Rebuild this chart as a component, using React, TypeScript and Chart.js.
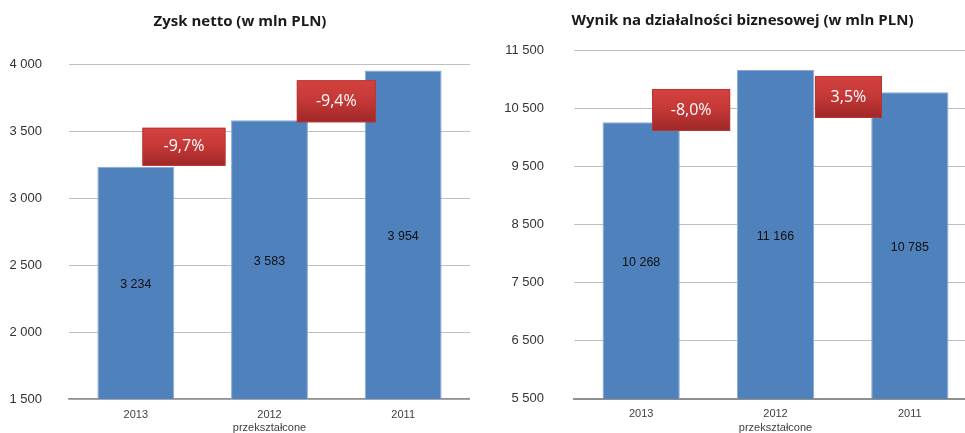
import React, { useEffect, useRef } from "react";
import { Chart, registerables } from "chart.js";

Chart.register(...registerables);

// ---- data ----
const categories: (string | string[])[] = ["2013", ["2012", "przekształcone"], "2011"];

const netProfitTitle = "Zysk netto (w mln PLN)";
const netProfitValues = [3234, 3583, 3954];
const netProfitChanges = ["-9,7%", "-9,4%"];
const netProfitTicks = [1500, 2000, 2500, 3000, 3500, 4000];

const businessTitle = "Wynik na działalności biznesowej (w mln PLN)";
const businessValues = [10268, 11166, 10785];
const businessChanges = ["-8,0%", "3,5%"];
const businessTicks = [5500, 6500, 7500, 8500, 9500, 10500, 11500];

// ---- annotation placement (layout config, not data) ----
const netProfitBoxes = [
  { at: 0.36, value: 3384, w: 83, h: 38 },
  { at: 1.5, value: 3724, w: 79, h: 42 },
];
const businessBoxes = [
  { at: 0.372, value: 10478, w: 78, h: 42 },
  { at: 1.543, value: 10702, w: 67, h: 42 },
];

const fmt = (n: number) => String(n).replace(/\B(?=(\d{3})+(?!\d))/g, " ");

const barLabelPlugin = {
  id: "barLabels",
  afterDatasetsDraw(chart: any) {
    const meta = chart.getDatasetMeta(0);
    const data = chart.data.datasets[0].data as number[];
    const ctx = chart.ctx;
    const bottom = chart.chartArea.bottom;
    ctx.save();
    ctx.font = "12.5px 'Liberation Sans', Arial, sans-serif";
    ctx.fillStyle = "#111111";
    ctx.textAlign = "center";
    ctx.textBaseline = "middle";
    meta.data.forEach((bar: any, i: number) => {
      const base = Math.min(bar.base, bottom);
      ctx.fillText(fmt(data[i]), bar.x, (bar.y + base) / 2 + 2);
    });
    ctx.restore();
  },
};

// let the y tick labels use the whole left margin of the canvas
const labelRoomPlugin = {
  id: "labelRoom",
  afterLayout(chart: any) {
    const y = chart.scales.y;
    if (y) y.left = 0;
  },
};

const changeBoxPlugin = {
  id: "changeBoxes",
  afterDatasetsDraw(chart: any, _args: any, opts: any) {
    const { labels, boxes } = opts;
    if (!labels || !boxes) return;
    const ctx = chart.ctx;
    const xs = chart.scales.x;
    const ys = chart.scales.y;
    ctx.save();
    labels.forEach((text: string, i: number) => {
      const b = boxes[i];
      const cx = xs.getPixelForValue(b.at);
      const cy = ys.getPixelForValue(b.value);
      const x0 = cx - b.w / 2;
      const y0 = cy - b.h / 2;
      const g = ctx.createLinearGradient(0, y0, 0, y0 + b.h);
      g.addColorStop(0, "#d4423f");
      g.addColorStop(0.5, "#c33836");
      g.addColorStop(1, "#9e2728");
      ctx.fillStyle = g;
      ctx.fillRect(x0, y0, b.w, b.h);
      ctx.strokeStyle = "#b83634";
      ctx.lineWidth = 1;
      ctx.strokeRect(x0 + 0.5, y0 + 0.5, b.w - 1, b.h - 1);
      ctx.fillStyle = "#ffffff";
      ctx.font = "16px 'Open Sans', 'Liberation Sans', sans-serif";
      ctx.textAlign = "center";
      ctx.textBaseline = "middle";
      ctx.fillText(text, cx, cy);
    });
    ctx.restore();
  },
};

type PanelProps = {
  title: string;
  values: number[];
  ticks: number[];
  changes: string[];
  boxes: { at: number; value: number; w: number; h: number }[];
  left: number;
  width: number;
  padLeft: number;
  axisWidth: number;
  xHeight: number;
  tickPadding: number;
  titleTop: number;
  titleBottom: number;
  baseLineWidth: number;
};

function Panel(p: PanelProps) {
  const ref = useRef<HTMLCanvasElement | null>(null);
  useEffect(() => {
    if (!ref.current) return;
    const chart = new Chart(ref.current, {
      type: "bar",
      data: {
        labels: categories as any,
        datasets: [
          {
            data: p.values,
            backgroundColor: "#4f81bd",
            borderColor: "#88a9d6",
            borderWidth: 1,
            barPercentage: 1,
            categoryPercentage: 0.575,
          },
        ],
      },
      options: {
        responsive: false,
        animation: false,
        devicePixelRatio: 1,
        layout: { padding: { left: p.padLeft, right: 0, top: 0, bottom: 0 } },
        plugins: {
          legend: { display: false },
          tooltip: { enabled: false },
          title: {
            display: true,
            text: p.title,
            color: "#1a1a1a",
            font: { family: "'Open Sans', sans-serif", size: 15, weight: "bold" },
            padding: { top: p.titleTop, bottom: p.titleBottom },
          },
          changeBoxes: { labels: p.changes, boxes: p.boxes },
        } as any,
        scales: {
          x: {
            grid: { display: false },
            border: { display: true, color: "#8f8f8f", width: p.baseLineWidth },
            ticks: {
              color: "#404040",
              padding: 1,
              font: { family: "'Liberation Sans', Arial, sans-serif", size: 11 },
              maxRotation: 0,
              autoSkip: false,
            },
            afterFit: (s: any) => {
              s.height = p.xHeight;
            },
          },
          y: {
            min: p.ticks[0],
            max: p.ticks[p.ticks.length - 1],
            afterBuildTicks: (s: any) => {
              s.ticks = p.ticks.map((v) => ({ value: v }));
            },
            grid: { color: "#bfbfbf", lineWidth: 1, drawTicks: false },
            border: { display: false },
            ticks: {
              color: "#333333",
              padding: p.tickPadding,
              font: { family: "'Liberation Sans', Arial, sans-serif", size: 13 },
              callback: (v: any) => fmt(Number(v)),
            },
            afterFit: (s: any) => {
              s.width = p.axisWidth;
              s.paddingTop = 0;
              s.paddingBottom = 0;
            },
          },
        },
      },
      plugins: [barLabelPlugin, changeBoxPlugin, labelRoomPlugin],
    });
    return () => chart.destroy();
  }, []);
  return (
    <canvas
      ref={ref}
      width={p.width}
      height={433}
      style={{ position: "absolute", left: p.left, top: 0, width: p.width, height: 433 }}
    />
  );
}

export default function App() {
  return (
    <div
      style={{
        position: "fixed",
        left: 0,
        top: 0,
        width: 965,
        height: 433,
        overflow: "hidden",
        background: "#ffffff",
      }}
    >
      <Panel
        title={netProfitTitle}
        values={netProfitValues}
        ticks={netProfitTicks}
        changes={netProfitChanges}
        boxes={netProfitBoxes}
        left={10}
        width={460}
        padLeft={0}
        axisWidth={59}
        xHeight={34}
        tickPadding={27}
        titleTop={13}
        titleBottom={33.3}
        baseLineWidth={1.5}
      />
      <Panel
        title={businessTitle}
        values={businessValues}
        ticks={businessTicks}
        changes={businessChanges}
        boxes={businessBoxes}
        left={488}
        width={489}
        padLeft={20}
        axisWidth={66}
        xHeight={34.3}
        tickPadding={30}
        titleTop={11.5}
        titleBottom={21.2}
        baseLineWidth={2}
      />
    </div>
  );
}
